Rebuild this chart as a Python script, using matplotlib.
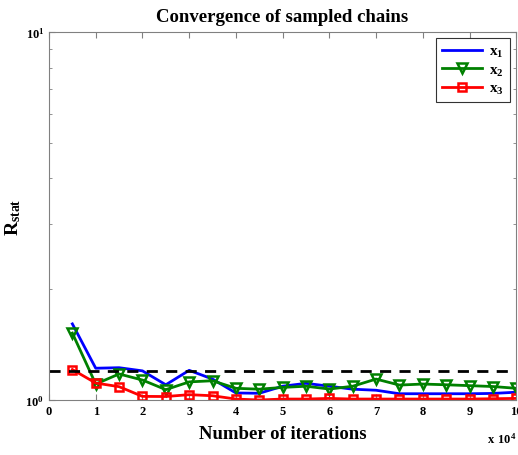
import numpy as np
import matplotlib
matplotlib.use("Agg")
import matplotlib.pyplot as plt
from matplotlib.ticker import LogLocator, NullFormatter, FixedLocator

plt.rcParams['font.family'] = ['Liberation Serif', 'DejaVu Serif']
plt.rcParams['font.weight'] = 'bold'
plt.rcParams['mathtext.fontset'] = 'custom'
plt.rcParams['mathtext.rm'] = 'Liberation Serif:bold'
plt.rcParams['mathtext.bf'] = 'Liberation Serif:bold'

# iterations (x 10^4)
iters = [0.5, 1, 1.5, 2, 2.5, 3, 3.5, 4, 4.5, 5, 5.5, 6, 6.5, 7, 7.5, 8, 8.5, 9, 9.5, 10]
r_x1 = [1.61, 1.22, 1.224, 1.20, 1.10, 1.204, 1.14, 1.045, 1.043, 1.09, 1.11, 1.09,
        1.07, 1.063, 1.04, 1.04, 1.04, 1.04, 1.042, 1.05]
r_x2 = [1.52, 1.105, 1.177, 1.133, 1.067, 1.12, 1.128, 1.076, 1.07, 1.082, 1.09, 1.071,
        1.09, 1.14, 1.098, 1.105, 1.10, 1.094, 1.088, 1.076]
r_x3 = [1.21, 1.112, 1.087, 1.023, 1.022, 1.034, 1.027, 1.006, 1.0, 1.006, 1.006, 1.01,
        1.006, 1.006, 1.006, 1.006, 1.006, 1.006, 1.008, 1.01]
threshold = 1.2

fig = plt.figure(figsize=(5.18, 4.56), dpi=100)
ax = fig.add_axes([0.0946, 0.1206, 0.902, 0.807])

ax.semilogy(iters, r_x1, color='#0000ff', linewidth=2, label='$\\mathbf{x_1}$')
ax.semilogy(iters, r_x2, color='#008000', linewidth=2, marker='v', markersize=7,
            markerfacecolor='none', markeredgewidth=1.8, label='$\\mathbf{x_2}$')
ax.semilogy(iters, r_x3, color='#ff0000', linewidth=2, marker='s', markersize=6,
            markerfacecolor='none', markeredgewidth=1.8, label='$\\mathbf{x_3}$')
ax.axhline(threshold, color='black', linestyle=(0, (4, 3)), linewidth=2)

ax.set_xlim(0, 10)
ax.set_ylim(1, 10)
ax.xaxis.set_major_locator(FixedLocator(range(0, 11)))
ax.set_xticklabels([str(i) for i in range(0, 11)])
ax.yaxis.set_major_locator(FixedLocator([1, 10]))
ax.set_yticklabels(['$\\mathbf{10^0}$', '$\\mathbf{10^1}$'])
ax.yaxis.set_minor_locator(LogLocator(base=10, subs=np.arange(2, 10)))
ax.yaxis.set_minor_formatter(NullFormatter())
ax.tick_params(which='both', direction='in', top=True, right=True, labelsize=9,
               color='#808080')
ax.tick_params(which='major', length=4)
ax.tick_params(which='minor', length=2)
for s in ax.spines.values():
    s.set_color('#808080')

ax.set_title('Convergence of sampled chains', fontsize=13.5, fontweight='bold', pad=8)
ax.set_xlabel('Number of iterations', fontsize=13.5, fontweight='bold', labelpad=6)
ax.set_ylabel('$\\mathbf{R_{stat}}$', fontsize=14, labelpad=2)
ax.text(1.0, -0.105, '$\\mathbf{x\\ 10^4}$', transform=ax.transAxes,
        fontsize=9, ha='right', va='center')

leg = ax.legend(loc='upper right', fontsize=11, fancybox=False, edgecolor='black',
                handlelength=2.6, borderaxespad=0.4, labelspacing=0.25,
                handletextpad=0.5, borderpad=0.4)
leg.get_frame().set_linewidth(0.8)

fig.savefig('out.png', dpi=100)
